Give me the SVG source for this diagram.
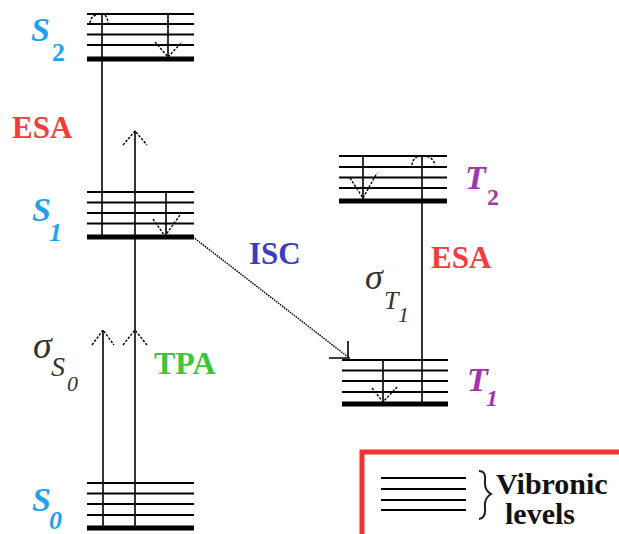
<svg xmlns="http://www.w3.org/2000/svg" width="619" height="534" viewBox="0 0 619 534">
<defs>
<style>
.thin{stroke:#000;stroke-width:2;fill:none}
.thick{stroke:#000;stroke-width:5;fill:none}
.ln{stroke:#000;stroke-width:1.6;fill:none}
.dash{stroke:#000;stroke-width:1.4;fill:none;stroke-dasharray:2.5,1.5}
.dot{stroke:#000;stroke-width:1.5;fill:none;stroke-dasharray:1.5,1}
.lbl{font-family:"Liberation Serif",serif;font-weight:bold}
.st{font-family:"Liberation Serif",serif;font-weight:bold;font-style:italic}
.sg{font-family:"Liberation Serif",serif;font-style:italic;fill:#333}
</style>
</defs>
<rect width="619" height="534" fill="#fff"/>

<g id="S2">
<path class="thin" d="M87,14H194M87,24H194M87,34.5H194M87,45H194"/>
<path class="thick" d="M87,59H194"/>
<text class="st" x="31" y="41" font-size="34" fill="#1fa2ee">S</text>
<text class="lbl" x="52" y="61" font-size="26" fill="#1fa2ee">2</text>
</g>

<g id="S1">
<path class="thin" d="M87,192H194M87,202.5H194M87,213H194M87,223.5H194"/>
<path class="thick" d="M87,237H194"/>
<text class="st" x="32" y="221" font-size="34" fill="#1fa2ee">S</text>
<text class="st" x="49" y="241" font-size="26" fill="#1fa2ee">1</text>
</g>

<g id="S0">
<path class="thin" d="M87,483H194M87,493.5H194M87,504H194M87,515H194"/>
<path class="thick" d="M87,528H194"/>
<text class="st" x="32" y="511" font-size="34" fill="#1fa2ee">S</text>
<text class="st" x="49" y="529" font-size="26" fill="#1fa2ee">0</text>
</g>

<g id="T2">
<path class="thin" d="M339,156H447M339,167H447M339,177.5H447M339,188H447"/>
<path class="thick" d="M339,201H447"/>
<text class="st" x="465" y="189" font-size="34" fill="#9b3bab">T</text>
<text class="lbl" x="487" y="205" font-size="24" fill="#9b3bab">2</text>
</g>

<g id="T1">
<path class="thin" d="M342,360H448M342,370.5H448M342,381H448M342,392H448"/>
<path class="thick" d="M342,404H448"/>
<text class="st" x="467" y="391" font-size="34" fill="#a332b0">T</text>
<text class="st" x="486" y="406" font-size="24" fill="#a332b0">1</text>
</g>

<g id="labels">
<text class="lbl" x="12" y="138" font-size="31" fill="#f23c3c">ESA</text>
<text class="lbl" x="431" y="268" font-size="31" fill="#f23c3c">ESA</text>
<text class="lbl" x="249" y="264" font-size="31" fill="#3b3bc4">ISC</text>
<text class="lbl" x="154" y="374" font-size="32" fill="#3ec43e">TPA</text>
<g id="sigmaS0">
<text class="sg" x="33" y="358" font-size="38">σ</text>
<text class="sg" x="51" y="376" font-size="28">S</text>
<text class="sg" x="67" y="391" font-size="22">0</text>
</g>
<g id="sigmaT1">
<text class="sg" x="365" y="289" font-size="36">σ</text>
<text class="sg" x="384" y="309" font-size="26">T</text>
<text class="sg" x="398" y="322" font-size="22">1</text>
</g>
</g>

<g id="connectors">
<!-- ESA S1 to S2 -->
<path class="ln" d="M102,237V14"/>
<path class="dash" d="M90,23Q91,14 102,14Q107,14 108,23"/>
<!-- S2 relaxation -->
<path class="ln" d="M168,14V58"/>
<path class="dash" d="M155,42L168,57L182,42"/>
<!-- one-photon absorption S0 -->
<path class="ln" d="M103,528V330"/>
<path class="dash" d="M92,345L103,330L114,345"/>
<!-- TPA -->
<path class="ln" d="M135,528V131"/>
<path class="dash" d="M123,345L135,330L147,345"/>
<path class="dash" d="M123,145L135,131L147,145"/>
<!-- S1 relaxation -->
<path class="ln" d="M166,192V236"/>
<path class="dash" d="M153,219L165,236L180,215"/>
<!-- ISC -->
<path class="dot" d="M193,237L348,357"/>
<path class="ln" d="M348,341V358M329,358H350"/>
<!-- T2 relaxation -->
<path class="ln" d="M363,156V200"/>
<path class="dash" d="M350,178L363,198L377,173"/>
<!-- ESA T1 to T2 -->
<path class="ln" d="M422,404V156"/>
<path class="dash" d="M412,165Q413,156 422,156Q433,156 435,165"/>
<!-- T1 relaxation -->
<path class="ln" d="M383,360V403"/>
<path class="dash" d="M372,388L383,402L397,387"/>
</g>

<g id="legend">
<rect x="362" y="452" width="270" height="100" fill="none" stroke="#f23232" stroke-width="5"/>
<path class="thin" d="M381,478H466M381,489H466M381,500H466M381,510H466"/>
<path d="M479,471Q486,471 485,480Q484,490 491,494Q484,498 485,508Q486,518 479,519" fill="none" stroke="#1a1a33" stroke-width="2"/>
<text class="lbl" x="496" y="494" font-size="30" fill="#111">Vibronic</text>
<text class="lbl" x="505" y="524" font-size="30" fill="#111">levels</text>
</g>
</svg>
